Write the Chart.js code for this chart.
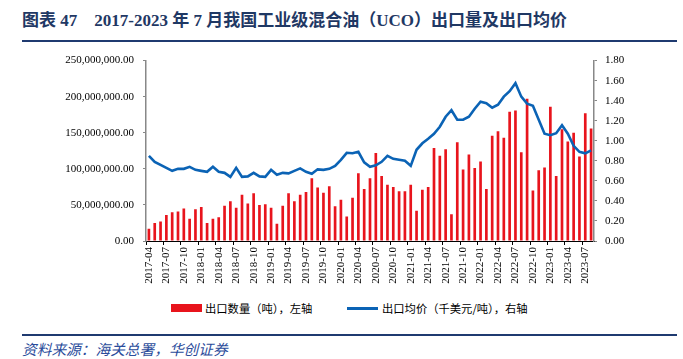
<!DOCTYPE html>
<html>
<head>
<meta charset="utf-8">
<script src="https://cdn.jsdelivr.net/npm/chart.js@4.4.1/dist/chart.umd.min.js"></script>
<style>
  html, body { margin:0; padding:0; background:#fff; }
  body { width:683px; height:359px; position:relative; overflow:hidden; }
  #title { position:absolute; left:22px; top:6px; font:bold 17px "Liberation Serif","Noto Sans CJK SC",serif; color:#1F3864; white-space:nowrap; }
  #rule1 { position:absolute; left:22px; top:40px; width:655px; height:2px; background:#1F3A70; }
  #wrap { position:absolute; left:0; top:45px; width:683px; height:255px; }
  #legend { position:absolute; left:0; top:300px; width:683px; height:16px; font:11.3px "Noto Sans CJK SC",sans-serif; color:#000; }
  .sw { position:absolute; }
  .lt { position:absolute; top:0; white-space:nowrap; line-height:16px; }
  #rule2 { position:absolute; left:22px; top:334px; width:655px; height:2px; background:#1F3A70; }
  #source { position:absolute; left:22px; top:338px; font:italic 14.7px "Noto Sans CJK SC",sans-serif; color:#2B4C9B; white-space:nowrap; }
</style>
</head>
<body>
<div id="title">图表 47&nbsp;&nbsp;&nbsp;&nbsp;2017-2023 年 7 月我国工业级混合油（UCO）出口量及出口均价</div>
<div id="rule1"></div>
<div id="wrap"><canvas id="c" width="683" height="255"></canvas></div>
<div id="legend">
  <div class="sw" style="left:171px;top:4px;width:31px;height:8px;background:#E8141C;"></div>
  <div class="lt" style="left:205px;">出口数量（吨），左轴</div>
  <div class="sw" style="left:347px;top:7px;width:31px;height:3px;background:#0B63B5;"></div>
  <div class="lt" style="left:382px;">出口均价（千美元/吨），右轴</div>
</div>
<div id="rule2"></div>
<div id="source">资料来源：海关总署，华创证券</div>
<script>
const categories = [
  "2017-04","2017-05","2017-06","2017-07","2017-08","2017-09","2017-10","2017-11","2017-12",
  "2018-01","2018-02","2018-03","2018-04","2018-05","2018-06","2018-07","2018-08","2018-09","2018-10","2018-11","2018-12",
  "2019-01","2019-02","2019-03","2019-04","2019-05","2019-06","2019-07","2019-08","2019-09","2019-10","2019-11","2019-12",
  "2020-01","2020-02","2020-03","2020-04","2020-05","2020-06","2020-07","2020-08","2020-09","2020-10","2020-11","2020-12",
  "2021-01","2021-02","2021-03","2021-04","2021-05","2021-06","2021-07","2021-08","2021-09","2021-10","2021-11","2021-12",
  "2022-01","2022-02","2022-03","2022-04","2022-05","2022-06","2022-07","2022-08","2022-09","2022-10","2022-11","2022-12",
  "2023-01","2023-02","2023-03","2023-04","2023-05","2023-06","2023-07","2023-08"
];
// 出口数量（吨），左轴 — in millions, scaled below
const exportVolumeM = [
  17,25,27,36,40,41,45,31,44,
  47,25,31,33,49,55,46,64,52,66,50,51,
  46,24,49,66,55,64,68,87,74,67,76,48,
  57,34,60,94,72,87,122,90,78,75,69,69,
  78,42,71,75,129,118,127,37,137,99,120,101,
  110,72,146,152,143,179,181,123,197,70,98,102,
  186,90,155,138,150,117,177,156
];
// 出口均价（千美元/吨），右轴
const exportPrice = [
  0.85,0.79,0.76,0.73,0.70,0.72,0.72,0.74,0.71,
  0.70,0.69,0.74,0.69,0.68,0.64,0.73,0.64,0.645,0.68,0.645,0.64,
  0.71,0.66,0.68,0.675,0.70,0.725,0.69,0.67,0.715,0.71,0.72,0.75,
  0.81,0.88,0.875,0.89,0.785,0.74,0.755,0.79,0.85,0.82,0.81,0.80,
  0.75,0.91,0.975,1.02,1.07,1.14,1.24,1.305,1.21,1.21,1.24,1.32,
  1.39,1.375,1.33,1.36,1.44,1.495,1.575,1.44,1.37,1.35,1.21,1.07,
  1.055,1.075,1.155,1.07,0.95,0.89,0.875,0.905
];
const leftTicks = [0, 50000000, 100000000, 150000000, 200000000, 250000000];
const rightTicks = [0, 0.2, 0.4, 0.6, 0.8, 1.0, 1.2, 1.4, 1.6, 1.8];

const exportVolume = exportVolumeM.map(v => v * 1000000);
const tickFont = { family: "'Liberation Serif', 'Times New Roman', serif", size: 11 };
const xFont = { family: "'Liberation Serif', 'Times New Roman', serif", size: 11 };

new Chart(document.getElementById('c'), {
  data: {
    labels: categories,
    datasets: [
      { type: 'line', label: '出口均价（千美元/吨），右轴', data: exportPrice, yAxisID: 'y1',
        borderColor: '#0B63B5', backgroundColor: '#0B63B5', borderWidth: 2.6,
        pointRadius: 0, tension: 0, order: 0 },
      { type: 'bar', label: '出口数量（吨），左轴', data: exportVolume, yAxisID: 'y',
        backgroundColor: '#E8141C', barPercentage: 0.46, categoryPercentage: 1.0, order: 1 }
    ]
  },
  options: {
    responsive: false,
    animation: false,
    devicePixelRatio: 1,
    layout: { padding: { top: 10, left: 0, right: 0, bottom: 0 } },
    plugins: { legend: { display: false }, tooltip: { enabled: false } },
    scales: {
      x: {
        offset: true,
        grid: { offset: true, drawOnChartArea: false, drawTicks: true, tickLength: 4,
                color: ctx => (ctx.index % 3 === 0 ? '#000' : 'rgba(0,0,0,0)') },
        border: { color: '#000', width: 1 },
        ticks: { autoSkip: false, maxRotation: 90, minRotation: 90, padding: 2, color: '#000', font: xFont,
                 callback: (v, i) => (i % 3 === 0 ? categories[i] : '') },
        afterFit: s => { s.height = 59; }
      },
      y: {
        position: 'left', min: 0, max: 250000000,
        afterBuildTicks: s => { s.ticks = leftTicks.map(v => ({ value: v })); },
        grid: { drawOnChartArea: false, drawTicks: true, tickLength: 3, color: '#888' },
        border: { color: '#888', width: 1.5 },
        ticks: { color: '#000', font: tickFont, padding: 9,
                 callback: v => Number(v).toLocaleString('en-US', { minimumFractionDigits: 2, maximumFractionDigits: 2 }) },
        afterFit: s => { s.width = 146; }
      },
      y1: {
        position: 'right', min: 0, max: 1.8,
        afterBuildTicks: s => { s.ticks = rightTicks.map(v => ({ value: v })); },
        grid: { drawOnChartArea: false, drawTicks: true, tickLength: 3, color: '#888' },
        border: { color: '#888', width: 1.5 },
        ticks: { color: '#000', font: tickFont, padding: 8, callback: v => Number(v).toFixed(2) },
        afterFit: s => { s.width = 89; }
      }
    }
  }
});
</script>
</body>
</html>
